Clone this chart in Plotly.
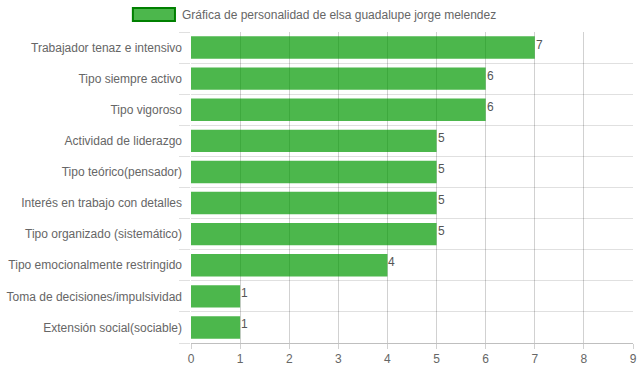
import plotly.graph_objects as go

categories = [
    "Trabajador tenaz e intensivo",
    "Tipo siempre activo",
    "Tipo vigoroso",
    "Actividad de liderazgo",
    "Tipo teórico(pensador)",
    "Interés en trabajo con detalles",
    "Tipo organizado (sistemático)",
    "Tipo emocionalmente restringido",
    "Toma de decisiones/impulsividad",
    "Extensión social(sociable)",
]
values = [7, 6, 6, 5, 5, 5, 5, 4, 1, 1]
x_ticks = [0, 1, 2, 3, 4, 5, 6, 7, 8, 9]
series_name = "Gráfica de personalidad de elsa guadalupe jorge melendez"

BAR_FILL = "rgba(0,153,0,0.7)"
FONT = "Liberation Sans, Arial, Helvetica, sans-serif"

n = len(categories)
pos = list(range(n))
bounds = [i - 0.5 for i in range(n + 1)]

fig = go.Figure()
fig.add_trace(go.Bar(
    y=pos,
    x=values,
    orientation="h",
    marker=dict(color=BAR_FILL, line=dict(width=0)),
    showlegend=False,
    customdata=categories,
    hovertemplate="%{customdata}: %{x}<extra></extra>",
))

for p, v in zip(pos, values):
    fig.add_annotation(
        x=v, y=p, xref="x", yref="y", text=str(v), showarrow=False,
        xanchor="left", yanchor="middle", xshift=-1, yshift=3,
        font=dict(family="Liberation Sans Narrow, Arial Narrow, sans-serif", size=12, color="#555"),
    )

# legend (Chart.js style box + label)
fig.add_shape(type="rect", xref="paper", yref="paper",
              x0=(133 - 191) / 441, x1=(175 - 191) / 441,
              y0=(343 - 21) / 311, y1=(343 - 8) / 311,
              fillcolor=BAR_FILL, line=dict(color="rgb(0,128,0)", width=2))
fig.add_annotation(xref="paper", yref="paper", x=(180 - 191) / 441, y=(343 - 14.5) / 311,
                   text=series_name, showarrow=False, xanchor="left", yanchor="middle",
                   font=dict(family=FONT, size=12, color="#666"))

fig.update_layout(
    width=639, height=372,
    margin=dict(l=191, r=6, t=32, b=29, autoexpand=False),
    paper_bgcolor="white", plot_bgcolor="white",
    bargap=0.28,
    font=dict(family=FONT, size=12, color="#666"),
    xaxis=dict(
        range=[0, 9], tickvals=x_ticks, showgrid=True, gridcolor="rgba(0,0,0,0.18)", gridwidth=1,
        zeroline=False, showline=True, linecolor="rgba(0,0,0,0.25)", linewidth=1,
        ticks="outside", ticklen=5, tickcolor="rgba(0,0,0,0.18)",
        tickfont=dict(family=FONT, size=12, color="#666"), fixedrange=True,
    ),
    yaxis=dict(
        range=[bounds[-1], bounds[0]],
        tickmode="array", tickvals=pos, ticktext=categories,
        showgrid=False, ticks="", ticklabelstandoff=8,
        showline=False, zeroline=False,
        minor=dict(tickmode="array", tickvals=bounds, showgrid=True,
                   gridcolor="rgba(0,0,0,0.12)", gridwidth=1,
                   ticks="outside", ticklen=11, tickcolor="rgba(0,0,0,0.12)"),
        tickfont=dict(family=FONT, size=12, color="#666"), fixedrange=True,
    ),
)

fig.write_html(
    "out.html",
    config={"displayModeBar": False},
    post_script="document.body.style.margin='0';document.body.style.padding='0';",
)
